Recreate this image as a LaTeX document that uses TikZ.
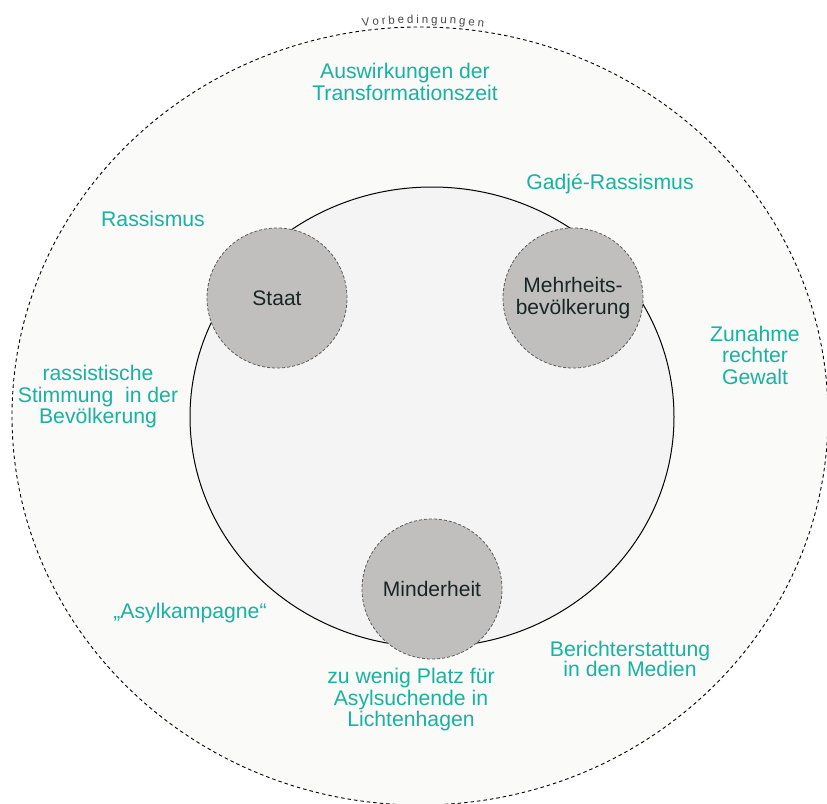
\documentclass[tikz,border=0pt]{standalone}
\usepackage{fontspec}
\setmainfont{Liberation Sans}
\definecolor{teal1}{RGB}{24,178,160}
\definecolor{darktext}{RGB}{22,38,38}
\definecolor{outerfill}{RGB}{250,250,249}
\definecolor{innerfill}{RGB}{244,244,244}
\definecolor{smallfill}{RGB}{193,191,189}
\definecolor{smallline}{RGB}{90,90,90}
\tikzset{
  lbl/.style={text=teal1, align=center, inner sep=0pt, font=\fontsize{21.2}{21.5}\selectfont},
  actor/.style={circle, minimum size=140pt, inner sep=0pt, fill=smallfill, draw=smallline, line width=0.8pt, dash pattern=on 3pt off 2pt, text=darktext, align=center, font=\fontsize{21}{22}\selectfont},
  arcletter/.style={text=black!72, inner sep=0pt, anchor=base, font=\fontsize{11.5}{12}\selectfont},
}
\begin{document}
\begin{tikzpicture}[x=1pt,y=-1pt]
\useasboundingbox (0,0) rectangle (827,803);
\fill[white] (0,0) rectangle (827,803);
% outer ellipse
\draw[fill=outerfill, line width=0.9pt, dash pattern=on 3.5pt off 3pt] (420,416) ellipse [x radius=408, y radius=389];
% curved title, letter by letter
\foreach \c/\s [count=\i] in {V/-57.02,o/-47.12,r/-39.13,b/-31.15,e/-21.88,d/-12.62,i/-5.27,n/2.07,g/11.34,u/20.60,n/29.87,g/39.13,e/48.40,n/57.66}{
  \pgfmathsetmacro{\ang}{\s/464*180/3.14159265}
  \pgfmathsetmacro{\px}{423+464*sin(\ang)}
  \pgfmathsetmacro{\py}{487-464*cos(\ang)}
  \node[arcletter, rotate=-\ang] (vor\i) at (\px,\py) {\c};
}
% inner ellipse
\draw[fill=innerfill, line width=1pt] (432,417) ellipse [x radius=242, y radius=230];
% actors
\node[actor] (staat) at (277,298) {Staat};
\node[actor] (mehr) at (573,298) {Mehrheits-\\bevölkerung};
\node[actor] (minder) at (432,589) {Minderheit};
% labels
\node[lbl] (ausw) at (405,82) {Auswirkungen der\\Transformationszeit};
\node[lbl] (gadje) at (610,184) {Gadjé-Rassismus};
\node[lbl] (rass) at (153,219) {Rassismus};
\node[lbl] (zun) at (755,355) {Zunahme\\rechter\\Gewalt};
\node[lbl] (stim) at (98,397) {rassistische\\Stimmung\ \ in der\\Bevölkerung};
\node[lbl] (asyl) at (190,613) {„Asylkampagne“};
\node[lbl] (platz) at (411,700) {zu wenig Platz für\\Asylsuchende in\\Lichtenhagen};
\node[lbl, font=\fontsize{21.2}{16}\selectfont] (ber) at (630,659) {Berichterstattung\\in den Medien};
\end{tikzpicture}
\end{document}
